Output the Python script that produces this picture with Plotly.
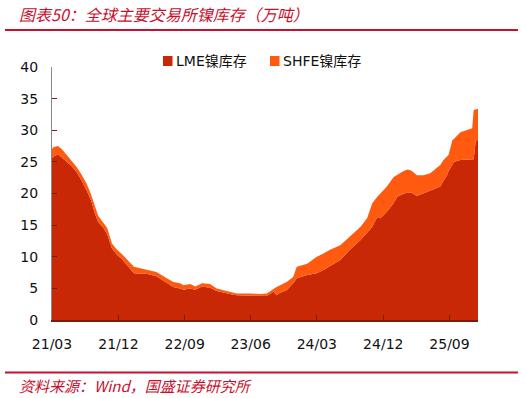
import plotly.graph_objects as go

dates = [
    "2021-03-01", "2021-03-06", "2021-03-26", "2021-04-11", "2021-05-01", "2021-05-22",
    "2021-06-11", "2021-07-01", "2021-07-22", "2021-08-10", "2021-08-26", "2021-09-08",
    "2021-10-01", "2021-10-16", "2021-11-04", "2021-11-25", "2021-12-16", "2022-01-06",
    "2022-02-03", "2022-03-01", "2022-03-28", "2022-05-07", "2022-06-19", "2022-07-16",
    "2022-08-13", "2022-08-27", "2022-09-24", "2022-10-15", "2022-11-12", "2022-12-15",
    "2023-01-12", "2023-02-09", "2023-03-07", "2023-04-04", "2023-05-28", "2023-07-10",
    "2023-08-07", "2023-09-04", "2023-09-16", "2023-10-01", "2023-10-28", "2023-11-24",
    "2023-12-09", "2024-01-21", "2024-03-01", "2024-03-28", "2024-04-25", "2024-06-06",
    "2024-07-16", "2024-08-28", "2024-09-25", "2024-10-16", "2024-11-06", "2024-11-19",
    "2024-12-16", "2025-01-13", "2025-01-28", "2025-02-25", "2025-03-13", "2025-03-28",
    "2025-04-19", "2025-05-16", "2025-06-13", "2025-07-10", "2025-07-25", "2025-08-07",
    "2025-08-22", "2025-08-28", "2025-09-13", "2025-09-19", "2025-10-16", "2025-11-13",
    "2025-12-04", "2025-12-10", "2025-12-19", "2025-12-28",
]

lme = [
    25.6, 25.8, 26.2, 25.7, 25.0, 24.3,
    23.4, 22.1, 20.5, 18.9, 16.8, 15.5,
    14.5, 13.5, 11.3, 10.3, 9.6, 8.7,
    7.4, 7.3, 7.3, 6.9, 5.8, 5.2,
    5.0, 4.8, 5.0, 4.8, 5.3, 5.1,
    4.6, 4.3, 4.1, 3.9, 3.9, 3.8,
    3.8, 4.5, 3.9, 4.3, 4.7, 5.8,
    6.6, 7.1, 7.4, 7.9, 8.5, 9.5,
    11.1, 12.6, 13.8, 14.7, 16.3, 16.1,
    17.1, 18.5, 19.5, 20.0, 20.1, 20.1,
    19.6, 20.0, 20.5, 20.8, 21.1, 22.0,
    22.9, 23.5, 24.5, 25.0, 25.3, 25.3,
    25.4, 25.4, 28.4, 28.4,
]

shfe = [
    1.4, 1.5, 1.3, 1.3, 1.1, 0.9,
    0.8, 0.9, 1.1, 0.9, 1.1, 1.0,
    0.8, 1.0, 0.8, 0.8, 0.8, 0.8,
    1.0, 0.9, 0.7, 0.7, 0.8, 0.8,
    0.8, 0.7, 0.7, 0.5, 0.5, 0.6,
    0.4, 0.4, 0.4, 0.3, 0.3, 0.3,
    0.4, 0.5, 1.3, 1.2, 1.3, 1.0,
    1.8, 1.8, 2.6, 2.6, 2.6, 2.3,
    2.1, 2.1, 2.3, 3.7, 3.2, 3.9,
    4.0, 4.1, 3.5, 3.6, 3.7, 3.5,
    3.3, 2.9, 2.7, 3.2, 3.4, 3.3,
    2.9, 2.6, 3.9, 3.6, 4.4, 4.7,
    4.9, 7.8, 4.9, 5.0,
]

tick_vals = ["2021-03-01", "2021-12-01", "2022-09-01", "2023-06-01",
             "2024-03-01", "2024-12-01", "2025-09-01"]
tick_text = ["21/03", "21/12", "22/09", "23/06", "24/03", "24/12", "25/09"]

series_names = ["LME镍库存", "SHFE镍库存"]
colors = ["#C82805", "#FF5A0F"]

fig = go.Figure()
fig.add_trace(go.Scatter(x=dates, y=lme, name=series_names[0], stackgroup="one",
                         mode="lines", line=dict(width=0, color=colors[0]),
                         fillcolor=colors[0], showlegend=False))
fig.add_trace(go.Scatter(x=dates, y=shfe, name=series_names[1], stackgroup="one",
                         mode="lines", line=dict(width=0, color=colors[1]),
                         fillcolor=colors[1], showlegend=False))

# plot area in pixels: left 52, right 478, top 67, bottom 320
L, R, T, B = 52, 478, 67, 320
def px(xp):
    return (xp - L) / (R - L)
def py(yp):
    return (B - yp) / (B - T)

red = "#C8102E"
legend_x = [163, 270]   # square left edges in pixels
legend_y = 61
shapes = [
    dict(type="line", xref="paper", yref="paper", x0=px(5), x1=px(518),
         y0=py(30), y1=py(30), line=dict(color=red, width=2)),
    dict(type="line", xref="paper", yref="paper", x0=px(5), x1=px(518),
         y0=py(372.5), y1=py(372.5), line=dict(color=red, width=2)),
]
annotations = [
    dict(text="<i>图表50：全球主要交易所镍库存（万吨）</i>", xref="paper", yref="paper",
         x=px(17), y=py(14), xanchor="left", yanchor="middle", showarrow=False,
         font=dict(size=16, color=red, family="Noto Sans CJK SC")),
    dict(text="<i>资料来源：Wind，国盛证券研究所</i>", xref="paper", yref="paper",
         x=px(17), y=py(385), xanchor="left", yanchor="middle", showarrow=False,
         font=dict(size=15, color=red, family="Noto Sans CJK SC")),
]
for nm, c, lx in zip(series_names, colors, legend_x):
    shapes.append(dict(type="rect", xref="paper", yref="paper",
                       x0=px(lx), x1=px(lx + 9.5), y0=py(legend_y + 5), y1=py(legend_y - 5),
                       fillcolor=c, line=dict(width=0)))
    annotations.append(dict(text=nm, xref="paper", yref="paper", x=px(lx + 11),
                            y=py(legend_y), xanchor="left", yanchor="middle",
                            showarrow=False,
                            font=dict(size=14, color="#111111",
                                      family="DejaVu Sans, Noto Sans CJK SC")))

fig.update_layout(
    width=526, height=398,
    margin=dict(l=L, r=526 - R, t=T, b=398 - B),
    paper_bgcolor="white", plot_bgcolor="white",
    font=dict(family="DejaVu Sans, Noto Sans CJK SC", size=14, color="#111111"),
    showlegend=False,
    xaxis=dict(type="date", range=["2021-03-01", "2025-12-28"],
               tickvals=tick_vals, ticktext=tick_text,
               ticks="inside", ticklen=5, tickcolor="#7A1A0A",
               ticklabelstandoff=10,
               showline=True, linecolor="#7A1A0A", linewidth=1.5,
               showgrid=False, zeroline=False, tickfont=dict(size=14)),
    yaxis=dict(range=[0, 40], dtick=5, ticks="inside", ticklen=5,
               tickcolor="#7A1A0A", showline=True, linecolor="#888888",
               ticklabelstandoff=10,
               linewidth=1, showgrid=False, zeroline=False,
               tickfont=dict(size=14)),
    shapes=shapes,
    annotations=annotations,
)

fig.write_html("out.html")
